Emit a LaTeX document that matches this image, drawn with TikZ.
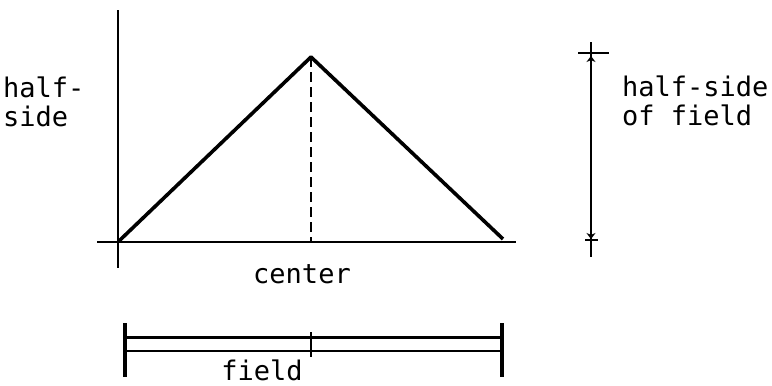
\documentclass[tikz,border=0pt]{standalone}
\usepackage{fontspec}
\setmonofont{DejaVu Sans Mono}
\usetikzlibrary{arrows.meta, positioning}
\tikzset{
    axis/.style={line width=2pt},
    curve/.style={line width=3.6pt, line join=round},
    guide/.style={line width=2.2pt, dash pattern=on 10pt off 5pt},
    dimline/.style={line width=1.8pt},
    endbar/.style={line width=3.4pt},
    label/.style={font=\ttfamily\fontsize{27}{29}\selectfont, inner sep=0pt, align=left}
}

\begin{document}
\begin{tikzpicture}[x=1pt, y=-1pt]
    \useasboundingbox (0,0) rectangle (772,386);

    % axes
    \coordinate (origin) at (118,242);
    \draw [axis] (118,10) -- (118,268);
    \draw [axis] (97,242) -- (516,242);

    % triangle profile
    \coordinate (left) at (119,241);
    \coordinate (peak) at (311,57);
    \coordinate (right) at (503,239);
    \coordinate (foot) at (311,242);
    \draw [curve] (left) -- (peak) -- (right);
    \draw [guide] (peak) -- (foot);

    % half-side of field
    \coordinate (dtop) at (591,42);
    \coordinate (dbot) at (591,257);
    \draw [dimline] (dtop) -- (dbot);
    \draw [dimline] (578,53) -- (609,53);
    \draw [dimline] (585,240) -- (598,240);
    \draw [-{Stealth[length=6pt, width=9pt]}, dimline] (591,70) -- (591,56);
    \draw [-{Stealth[length=6pt, width=9pt]}, dimline] (591,225) -- (591,239);

    % field
    \coordinate (fl) at (125,337);
    \coordinate (fr) at (502,337);
    \draw [endbar] (125,323) -- (125,377);
    \draw [endbar] (502,323) -- (502,377);
    \draw [line width=3pt] (fl) -- (fr);
    \draw [line width=2.2pt] (125,351) -- (502,351);
    \draw [dimline] (311,332) -- (311,357);

    % labels
    \node (halfside) [label, anchor=base west] at (3,126) {half-\\side};
    \node (halffield) [label, anchor=base west] at (622,125) {half-side\\of field};
    \node (center) [label, anchor=base] at (302,283) {center};
    \node (field) [label, anchor=base] at (262,380) {field};
\end{tikzpicture}
\end{document}
